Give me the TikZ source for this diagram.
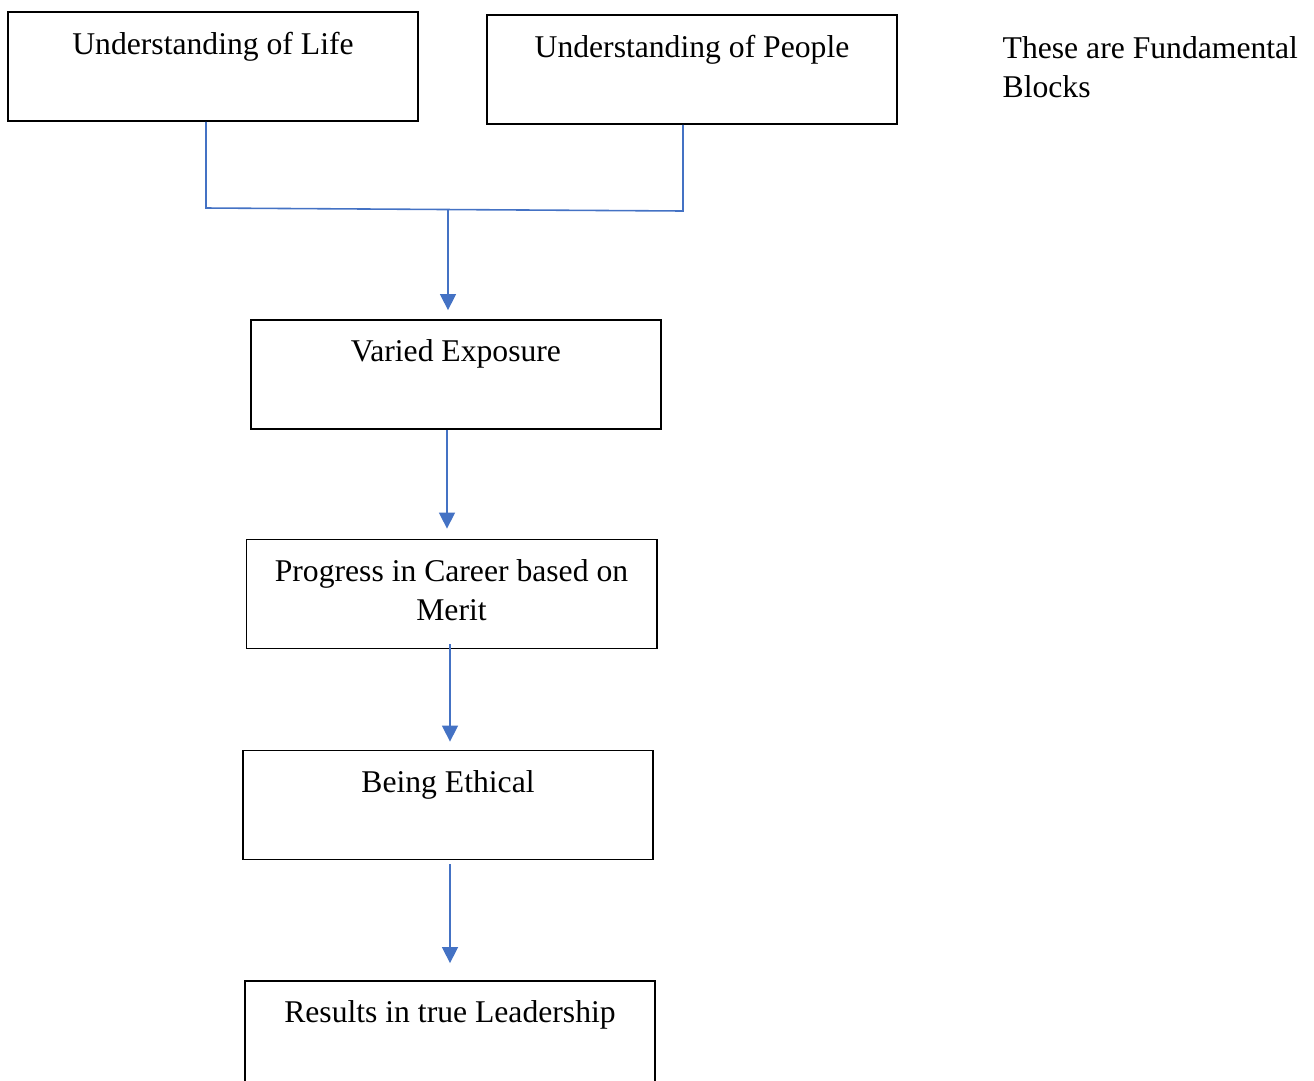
\documentclass[tikz,border=0pt]{standalone}
\usepackage{fontspec}
\setmainfont{Liberation Serif}
\usetikzlibrary{arrows.meta}
\definecolor{linkblue}{HTML}{4472C4}
\tikzset{
    blk/.style={draw,line width=0.5pt,minimum width=4.1cm,minimum height=1.09cm,inner sep=0pt,
        label={[anchor=north,yshift=-0.2cm,align=center,inner sep=0pt]north:{#1}}},
    link/.style={draw=linkblue,line width=0.45pt},
    arr/.style={link,-{Triangle[width=0.16cm,length=0.16cm]}}
}
\begin{document}
\begin{tikzpicture}[x=0.01cm,y=-0.01cm,font=\fontsize{9}{11.1}\selectfont]
    \useasboundingbox (0,0) rectangle (1314,1081);
    \clip (0,0) rectangle (1314,1081);

    \node[blk={Understanding of Life}] (life) at (213,66.5) {};
    \node[blk={Understanding of People}] (people) at (692,69.5) {};
    \node[anchor=base west,align=left,inner sep=0pt] (note) at (1002,97.5)
    	{These are Fundamental\\Blocks};

    \node[blk={Varied Exposure}] (varied) at (456,374.5) {};
    \node[blk={Progress in Career based on\\Merit}] (career) at (451.5,594) {};
    \node[blk={Being Ethical}] (ethical) at (448,805) {};
    \node[blk={Results in true Leadership}] (leader) at (450,1035.5) {};

    % joining the two top blocks
    \coordinate (jl) at (206,208);
    \coordinate (jr) at (683,211);
    \coordinate (jm) at (448,209.5);
    \draw[link] (life.south -| jl) -- (jl) -- (jr) -- (people.south -| jr);

    \draw[arr,shorten >=0.09cm] (jm) -- (jm |- varied.north);
    \draw[arr,shorten >=0.1cm] ([xshift=-0.09cm]varied.south) -- ([xshift=-0.09cm]varied.south |- career.north);
    \draw[arr,shorten >=0.08cm] ([yshift=0.05cm,xshift=-0.015cm]career.south) -- ([xshift=-0.015cm]career.south |- ethical.north);
    \draw[arr,shorten >=0.17cm] ([yshift=-0.04cm,xshift=0.02cm]ethical.south) -- ([xshift=0.02cm]ethical.south |- leader.north);
\end{tikzpicture}
\end{document}
